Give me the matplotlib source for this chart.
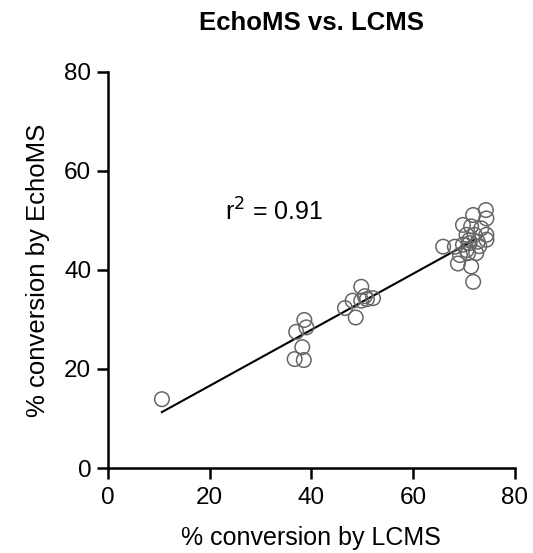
import numpy as np
import matplotlib
matplotlib.use('Agg')
import matplotlib.pyplot as plt

plt.rcParams['font.family'] = ['Liberation Sans', 'DejaVu Sans']

# % conversion values
lcms = [10.6, 37.0, 38.6, 39.0, 38.2, 36.7, 38.5,
        49.8, 46.6, 48.1, 48.7, 49.8, 50.9, 52.1, 50.5,
        71.8, 74.3, 74.4, 71.4, 69.8, 73.4, 70.5, 72.1, 74.4,
        65.9, 68.2, 69.8, 71.1, 72.7, 74.4, 69.2, 70.8, 72.4,
        68.8, 71.4, 71.8, 70.5, 73.0, 71.0]
echoms = [13.9, 27.5, 29.9, 28.4, 24.4, 22.0, 21.8,
          36.6, 32.3, 33.8, 30.4, 33.8, 34.1, 34.3, 34.7,
          51.1, 52.1, 50.4, 48.8, 49.1, 48.4, 47.1, 47.1, 47.1,
          44.7, 44.7, 45.1, 45.4, 45.7, 46.1, 43.0, 43.4, 43.4,
          41.3, 40.7, 37.6, 44.0, 44.8, 46.0]
r2_text = 'r$^2$ = 0.91'

x = np.array(lcms)
y = np.array(echoms)
slope, icpt = np.polyfit(x, y, 1)
xl = np.array([x.min(), 72.0])

fig = plt.figure(figsize=(5.33, 5.53), dpi=100)
ax = fig.add_axes([0.2026, 0.1537, 0.7634, 0.7163])

ax.scatter(x, y, s=110, facecolors='none', edgecolors='#666666', linewidths=1.1, zorder=3)
ax.plot(xl, slope * xl + icpt, color='black', lw=1.5, zorder=2)

ax.set_xlim(0, 80)
ax.set_ylim(0, 80)
ax.set_xticks([0, 20, 40, 60, 80])
ax.set_yticks([0, 20, 40, 60, 80])
for s in ['top', 'right']:
    ax.spines[s].set_visible(False)
for s in ['left', 'bottom']:
    ax.spines[s].set_linewidth(1.8)
ax.tick_params(width=1.8, length=8, labelsize=17.5, colors='black', pad=6)
ax.tick_params(axis='y', pad=4)

ax.set_xlabel('% conversion by LCMS', fontsize=18, labelpad=12)
ax.set_ylabel('% conversion by EchoMS', fontsize=18.5, labelpad=10)
ax.set_title('EchoMS vs. LCMS', fontsize=18.5, fontweight='bold', pad=30)
ax.text(23, 50, r2_text, fontsize=18)

fig.savefig('out.png', dpi=100)
